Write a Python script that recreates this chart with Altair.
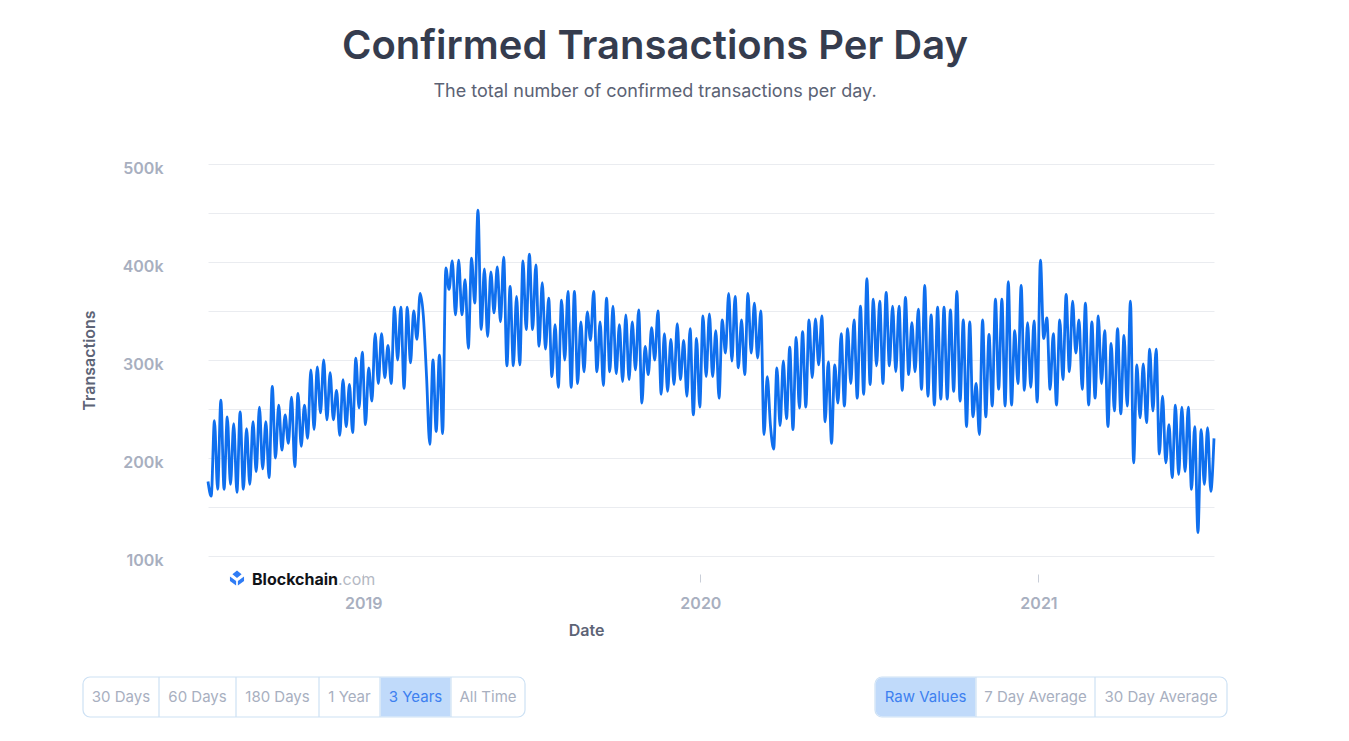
import altair as alt
import pandas as pd

# ---- data (thousands of confirmed transactions, ~half-week steps) ----
start_date = "2018-07-17"
end_date = "2021-07-10"
tx_k = [
    176, 161, 238, 168, 259, 168, 242, 173, 235, 165,
    247, 168, 230, 173, 237, 186, 252, 189, 237, 180,
    273, 200, 254, 208, 244, 215, 262, 191, 266, 212,
    254, 220, 290, 229, 293, 246, 300, 239, 287, 239,
    269, 223, 280, 232, 275, 226, 302, 251, 308, 234,
    292, 258, 327, 276, 327, 282, 315, 276, 354, 300,
    354, 271, 354, 297, 350, 321, 368, 345, 283, 214,
    300, 227, 305, 225, 394, 372, 401, 346, 402, 346,
    382, 312, 404, 358, 453,
    331, 393, 324, 390, 348, 395, 339, 405, 294, 375,
    294, 365, 295, 401, 331, 408, 331, 397, 314, 379,
    311, 363, 283, 336, 272, 361, 300, 370, 272, 370,
    276, 339, 288, 349, 320, 370, 288, 339, 274, 363,
    288, 355, 286, 336, 278, 346, 280, 339, 290, 351,
    256, 314, 285, 333, 300, 350, 265, 327, 268, 321,
    275, 337, 280, 320, 263, 332, 244, 322, 252, 345,
    283, 347, 283, 330, 261, 341, 307, 368, 299, 365,
    292, 341, 285, 368, 307, 358, 302, 350, 224, 283,
    233, 209, 292, 233, 299, 240, 313, 229, 323, 251,
    329, 252, 341, 282, 342, 295, 345, 237, 298, 215,
    295, 256, 327, 253, 332, 276, 341, 261, 355, 265,
    383, 275, 362, 294, 360, 276, 369, 294, 355, 288,
    355, 269, 364, 285, 338, 288, 352, 270, 376, 263,
    346, 254, 354, 260, 354, 260, 351, 268, 370, 258,
    341, 232, 339, 242, 276, 224, 341, 242, 326, 253,
    362,
    270, 362, 253, 380, 254, 330, 276, 376, 269, 338,
    272, 340, 257, 402, 322, 343, 270, 327, 254, 341,
    280, 367, 288, 360, 307, 341, 270, 358, 254, 339,
    261, 345, 276, 330, 232, 317, 248, 332, 245, 325,
    253, 360, 195, 295, 241, 296, 236, 311, 248, 311,
    204, 263, 195, 234, 180, 254, 183, 252, 186, 252,
    168, 232, 124, 229, 173, 231, 166, 220,
]
year_ticks = [2019, 2020, 2021]
y_grid_k = [100, 150, 200, 250, 300, 350, 400, 450, 500]
range_buttons = ["30 Days", "60 Days", "180 Days", "1 Year", "3 Years", "All Time"]
range_active = "3 Years"
mode_buttons = ["Raw Values", "7 Day Average", "30 Day Average"]
mode_active = "Raw Values"

# ---- build table ----
t0 = pd.Timestamp(start_date)
t1 = pd.Timestamp(end_date)
n = len(tx_k)
step = (t1 - t0) / (n - 1)
dates = [(t0 + step * i).strftime("%Y-%m-%dT%H:%M:%S") for i in range(n)]
df = pd.DataFrame({"date": dates, "transactions": [v * 1000 for v in tx_k]})

FONT = "Inter"
LINE = "#0f6fee"
LABEL_GREY = "#a8afbf"
TITLE_GREY = "#5d6476"
BORDER = "#cde1f4"
ACTIVE_BG = "#c0dafa"
ACTIVE_TXT = "#3d80f0"

W, H = 1006, 392

line = alt.Chart(df).mark_line(color=LINE, strokeWidth=2.8, interpolate="monotone").encode(
    x=alt.X(
        "date:T",
        scale=alt.Scale(nice=False),
        axis=alt.Axis(
            title="Date",
            values=[alt.DateTime(year=y, month=1, date=1) for y in year_ticks],
            format="%Y",
            grid=False,
            domain=False,
            ticks=True,
            tickSize=8,
            tickColor="#c9ced8",
            offset=18,
            labelFontSize=16,
            labelFontWeight=600,
            labelColor=LABEL_GREY,
            labelPadding=13,
            titleFontSize=16,
            titleFontWeight=600,
            titleColor=TITLE_GREY,
            titlePadding=11,
            titleX=378,
        ),
    ),
    y=alt.Y(
        "transactions:Q",
        scale=alt.Scale(domain=[100000, 500000], nice=False, zero=False),
        axis=alt.Axis(
            title="Transactions",
            values=[v * 1000 for v in y_grid_k],
            labelExpr="datum.value % 100000 === 0 ? (datum.value / 1000) + 'k' : ''",
            grid=True,
            gridColor="#eaecf0",
            gridWidth=1,
            domain=False,
            ticks=False,
            tickSize=0,
            labelFontSize=16,
            labelFontWeight=600,
            labelColor=LABEL_GREY,
            labelPadding=45,
            labelOffset=4,
            titleFontSize=16,
            titleFontWeight=600,
            titleColor=TITLE_GREY,
            titlePadding=25,
        ),
    ),
)

layers = [line]

# ---- watermark logo ----
icon_path = (
    "M0,-1 L0.62,-0.5 L0,0 L-0.62,-0.5 Z "
    "M-0.95,-0.2 L-0.12,0.42 L-0.12,1 L-0.95,0.4 Z "
    "M0.95,-0.2 L0.12,0.42 L0.12,1 L0.95,0.4 Z"
)
one = pd.DataFrame({"k": [0]})
layers.append(
    alt.Chart(one).mark_point(shape=icon_path, filled=True, color="#2f7cf5", size=220, opacity=1).encode(
        x=alt.value(29), y=alt.value(414)
    )
)
layers.append(
    alt.Chart(pd.DataFrame({"t": ["Blockchain"]})).mark_text(
        align="left", baseline="alphabetic", font=FONT, fontSize=16, fontWeight=700, color="#111318"
    ).encode(x=alt.value(44), y=alt.value(421), text="t:N")
)
layers.append(
    alt.Chart(pd.DataFrame({"t": [".com"]})).mark_text(
        align="left", baseline="alphabetic", font=FONT, fontSize=16, fontWeight=400, color="#b4b9c4"
    ).encode(x=alt.value(130), y=alt.value(421), text="t:N")
)

# ---- button bars (UI decoration under the chart) ----
btn_top, btn_bot = 513, 553
range_edges = [-125, -49, 28, 111, 172, 243, 317]
mode_edges = [667, 768, 887, 1019]


def button_group(labels, edges, active):
    grp = pd.DataFrame({"x0": [edges[0]], "x1": [edges[-1]]})
    out = [
        alt.Chart(grp).mark_rect(cornerRadius=7, fill="white", stroke=BORDER, strokeWidth=1.2).encode(
            x=alt.X("x0:Q", scale=None, axis=None),
            x2="x1:Q",
            y=alt.value(btn_top),
            y2=alt.value(btn_bot),
        )
    ]
    for i, lab in enumerate(labels):
        if lab == active:
            a = pd.DataFrame({"x0": [edges[i] + 0.6], "x1": [edges[i + 1] - 0.6]})
            kw = {}
            if i == 0:
                kw = dict(cornerRadiusTopLeft=7, cornerRadiusBottomLeft=7)
            elif i == len(labels) - 1:
                kw = dict(cornerRadiusTopRight=7, cornerRadiusBottomRight=7)
            out.append(
                alt.Chart(a).mark_rect(fill=ACTIVE_BG, **kw).encode(
                    x=alt.X("x0:Q", scale=None, axis=None),
                    x2="x1:Q",
                    y=alt.value(btn_top + 0.6),
                    y2=alt.value(btn_bot - 0.6),
                )
            )
    div = pd.DataFrame({"x": edges[1:-1]})
    out.append(
        alt.Chart(div).mark_rule(color=BORDER, strokeWidth=1.2).encode(
            x=alt.X("x:Q", scale=None, axis=None),
            y=alt.value(btn_top),
            y2=alt.value(btn_bot),
        )
    )
    txt = pd.DataFrame({
        "label": labels,
        "xc": [(edges[i] + edges[i + 1]) / 2 for i in range(len(labels))],
        "on": [lab == active for lab in labels],
    })
    out.append(
        alt.Chart(txt).mark_text(font=FONT, fontSize=15, baseline="middle", align="center").encode(
            x=alt.X("xc:Q", scale=None, axis=None),
            y=alt.value((btn_top + btn_bot) / 2),
            text="label:N",
            color=alt.condition("datum.on", alt.value(ACTIVE_TXT), alt.value(LABEL_GREY)),
        )
    )
    return out


layers += button_group(range_buttons, range_edges, range_active)
layers += button_group(mode_buttons, mode_edges, mode_active)

chart = (
    alt.layer(*layers)
    .resolve_scale(x="independent", y="independent")
    .properties(
        width=W,
        height=H,
        autosize=alt.AutoSizeParams(type="none"),
        padding={"left": 200, "top": 156, "right": 115, "bottom": 170},
        title=alt.TitleParams(
            text="Confirmed Transactions Per Day",
            subtitle="The total number of confirmed transactions per day.",
            anchor="middle",
            frame="group",
            dx=-56,
            offset=59,
            font=FONT,
            fontSize=40,
            fontWeight=600,
            color="#353c4e",
            subtitleFont=FONT,
            subtitleFontSize=18,
            subtitleColor="#5b6274",
            subtitlePadding=16,
        ),
    )
    .configure(font=FONT)
    .configure_view(stroke=None)
)

chart.save("out.html", embed_options={"renderer": "svg", "actions": False})
